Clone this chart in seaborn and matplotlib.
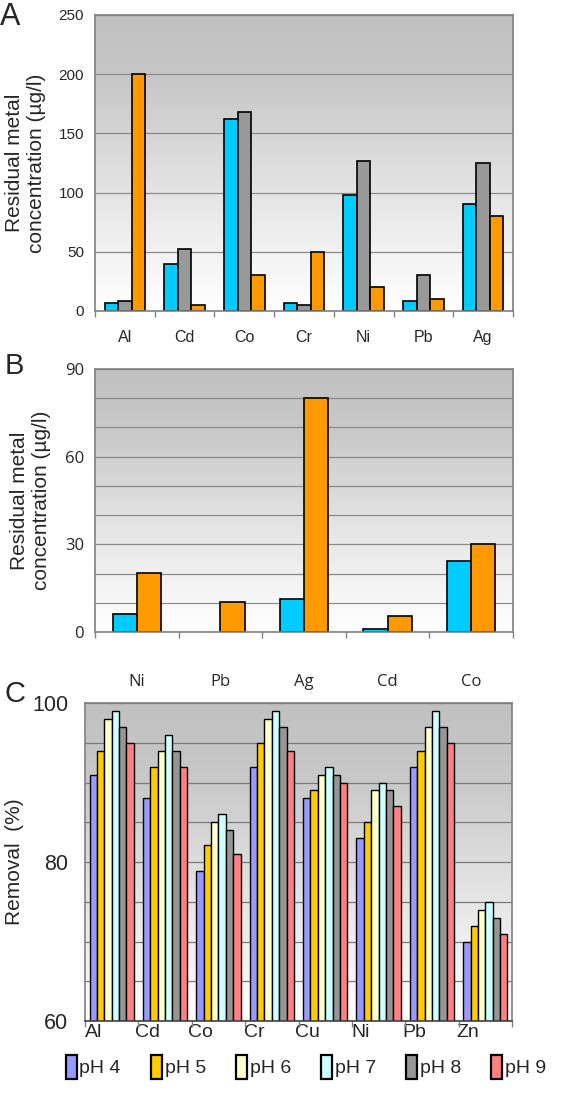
import numpy as np
import pandas as pd
import matplotlib
matplotlib.use("Agg")
import matplotlib.pyplot as plt
from matplotlib.colors import LinearSegmentedColormap
from matplotlib.patches import Patch
from matplotlib.ticker import MultipleLocator, FixedLocator
import seaborn as sns

# panel A
metals_a = ['Al', 'Cd', 'Co', 'Cr', 'Ni', 'Pb', 'Ag']
a_cyan = [7, 40, 162, 7, 98, 8.5, 90]
a_gray = [8.5, 52, 168, 5, 127, 30, 125]
a_orange = [200, 5, 30, 50, 20, 10, 80]

# panel B
metals_b = ['Ni', 'Pb', 'Ag', 'Cd', 'Co']
b_cyan = [6.2, np.nan, 11.3, 1.1, 24.3]
b_orange = [20.2, 10.1, 80, 5.4, 30]

# panel C
metals_c = ['Al', 'Cd', 'Co', 'Cr', 'Cu', 'Ni', 'Pb', 'Zn']
ph_labels = ['pH 4', 'pH 5', 'pH 6', 'pH 7', 'pH 8', 'pH 9']
ph4 = [91.0, 88.0, 78.9, 92.0, 88.0, 83.0, 92.0, 70.0]
ph5 = [94.0, 92.0, 82.1, 95.0, 89.0, 85.0, 94.0, 71.9]
ph6 = [98.0, 94.0, 85.0, 98.0, 91.0, 89.0, 97.0, 74.0]
ph7 = [99.0, 96.0, 86.0, 99.0, 92.0, 90.0, 99.0, 75.0]
ph8 = [97.0, 94.0, 84.0, 97.0, 91.0, 89.0, 97.0, 73.0]
ph9 = [95.0, 92.0, 81.0, 94.0, 90.0, 87.0, 95.0, 71.0]

sns.set_style("white")
plt.rcParams['font.family'] = ['Liberation Sans', 'DejaVu Sans']

grad_cmap = LinearSegmentedColormap.from_list(
    'bg', [(0.0, '#ffffff'), (0.4, '#e4e4e4'), (0.75, '#c9c9c9'), (1.0, '#c0c0c0')])


def long_df(cats, series):
    rows = []
    for name, vals in series.items():
        for c, v in zip(cats, vals):
            rows.append({'metal': c, 'series': name, 'value': v})
    return pd.DataFrame(rows).dropna()


def background(ax, ylo, yhi, n):
    ax.set_xlim(-0.5, n - 0.5)
    ax.set_ylim(ylo, yhi)
    grad = np.linspace(0, 1, 256)[:, None]
    ax.imshow(grad, extent=[-0.5, n - 0.5, ylo, yhi], origin='lower',
              aspect='auto', cmap=grad_cmap, zorder=0)
    ax.set_xlim(-0.5, n - 0.5)
    ax.set_ylim(ylo, yhi)
    ax.set_axisbelow(True)
    for s in ax.spines.values():
        s.set_color('#808080')
        s.set_linewidth(1.2)


def sep_ticks(ax, n):
    ax.xaxis.set_minor_locator(FixedLocator(np.arange(-0.5, n, 1.0)))
    ax.tick_params(axis='x', which='minor', length=4, color='#808080', width=1, bottom=True)
    ax.tick_params(axis='x', which='major', length=0)


fig = plt.figure(figsize=(5.61, 10.95), dpi=100)

# ---------------- A ----------------
axA = fig.add_axes([95 / 561, 1 - 311 / 1095, 418 / 561, 296 / 1095])
dfA = long_df(metals_a, {'s1': a_cyan, 's2': a_gray, 's3': a_orange})
sns.barplot(data=dfA, x='metal', y='value', hue='series', order=metals_a,
            palette=['#00ccff', '#999999', '#ff9900'], width=0.68, saturation=1,
            edgecolor='black', linewidth=1.2, ax=axA, legend=False, zorder=2)
background(axA, 0, 250, len(metals_a))
axA.yaxis.set_major_locator(MultipleLocator(50))
axA.yaxis.grid(True, color='#8a8a8a', lw=0.9)
sep_ticks(axA, len(metals_a))
axA.tick_params(axis='y', length=0, pad=8, labelsize=11)
axA.tick_params(axis='x', which='major', pad=14, labelsize=11.5)
axA.set_xlabel('')
axA.set_ylabel('Residual metal\nconcentration (µg/l)', fontsize=15, labelpad=9, linespacing=1.2)
fig.text(0.0, 1 - 2 / 1095, 'A', fontsize=22, va='top', ha='left')

# ---------------- B ----------------
axB = fig.add_axes([95 / 561, 1 - 632 / 1095, 418 / 561, 263 / 1095])
dfB = long_df(metals_b, {'s1': b_cyan, 's3': b_orange})
sns.barplot(data=dfB, x='metal', y='value', hue='series', order=metals_b,
            hue_order=['s1', 's3'], palette=['#00ccff', '#ff9900'], width=0.58,
            saturation=1, edgecolor='black', linewidth=1.2, ax=axB, legend=False, zorder=2)
background(axB, 0, 90, len(metals_b))
axB.yaxis.set_major_locator(MultipleLocator(30))
axB.yaxis.set_minor_locator(MultipleLocator(10))
axB.yaxis.grid(True, which='both', color='#8a8a8a', lw=0.9)
sep_ticks(axB, len(metals_b))
axB.tick_params(axis='y', which='both', length=0, pad=8)
for lab in axB.get_yticklabels() + axB.get_xticklabels():
    lab.set_family(['Open Sans', 'DejaVu Sans'])
    lab.set_fontsize(12)
axB.tick_params(axis='x', which='major', pad=30)
axB.set_xlabel('')
axB.set_ylabel('Residual metal\nconcentration (µg/l)', fontsize=15, labelpad=10, linespacing=1.2)
fig.text(5 / 561, 1 - 352 / 1095, 'B', fontsize=21, va='top', ha='left')

# ---------------- C ----------------
axC = fig.add_axes([85 / 561, 1 - 1021 / 1095, 427 / 561, 318 / 1095])
dfC = long_df(metals_c, dict(zip(ph_labels, [ph4, ph5, ph6, ph7, ph8, ph9])))
ph_colors = ['#9999ff', '#ffcc00', '#ffffcc', '#ccffff', '#969696', '#ff8080']
sns.barplot(data=dfC, x='metal', y='value', hue='series', order=metals_c,
            hue_order=ph_labels, palette=ph_colors, width=0.83, saturation=1,
            edgecolor='black', linewidth=1.0, ax=axC, legend=False, zorder=2)
background(axC, 60, 100, len(metals_c))
axC.yaxis.set_major_locator(FixedLocator([60, 80, 100]))
axC.yaxis.set_minor_locator(MultipleLocator(5))
axC.yaxis.grid(True, which='both', color='#7a7a7a', lw=0.9)
axC.spines['bottom'].set_color('#404040')
sep_ticks(axC, len(metals_c))
axC.set_xticks(np.arange(len(metals_c)) - 0.33)
axC.set_xticklabels(metals_c)
axC.tick_params(axis='x', which='major', pad=2, labelsize=14)
axC.tick_params(axis='y', which='both', length=0, pad=12, labelsize=15.5)
axC.set_xlabel('')
axC.set_ylabel('Removal  (%)', fontsize=15, labelpad=6)
fig.text(5 / 561, 1 - 680 / 1095, 'C', fontsize=21, va='top', ha='left')

handles = [Patch(facecolor=c, edgecolor='black', linewidth=1.6) for c in ph_colors]
fig.legend(handles, ph_labels, loc='center', bbox_to_anchor=(0.545, 1 - 1067 / 1095),
           ncol=6, frameon=False, handlelength=0.55, handleheight=1.6,
           handletextpad=0.15, columnspacing=1.55,
           prop={'family': ['Liberation Sans', 'DejaVu Sans'], 'size': 14})

fig.savefig('out.png', dpi=100)
